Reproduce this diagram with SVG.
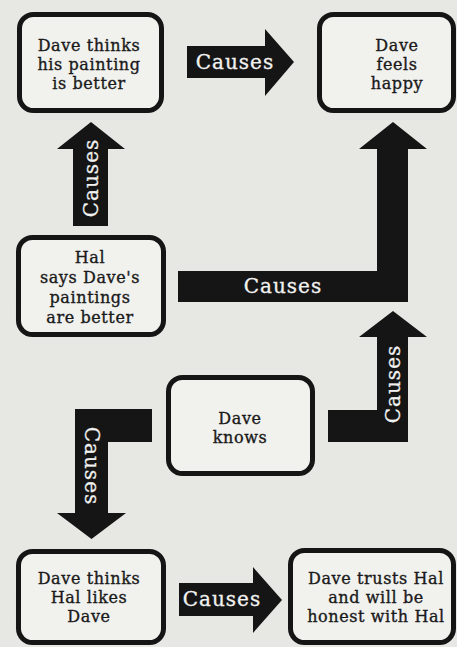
<svg xmlns="http://www.w3.org/2000/svg" width="457" height="647" viewBox="0 0 457 647">
<style>
.bg{fill:#e7e7e3}
.box{fill:#f1f1ee;stroke:#151515;stroke-width:5}
.arrow{fill:#151515}
.t{font-family:"DejaVu Serif","Liberation Serif",serif;font-size:16px;fill:#1a1a1a;stroke:#1a1a1a;stroke-width:0.35;text-anchor:middle;letter-spacing:0.6px}
.lbl{font-family:"DejaVu Serif","Liberation Serif",serif;font-size:20px;fill:#f2f2f0;stroke:#f2f2f0;stroke-width:0.3;text-anchor:middle;letter-spacing:1px}
</style>
<rect class="bg" x="0" y="0" width="457" height="647"/>
<g id="connectors">
  <g id="c1">
    <polygon class="arrow" points="187,46 265,46 265,29 294,62 265,96 265,78 187,78"/>
    <text class="lbl" x="235" y="69">Causes</text>
  </g>
  <g id="c2">
    <polygon class="arrow" points="91,122 125,149 108,149 108,226 73,226 73,149 57,149"/>
    <text class="lbl" transform="translate(98,178) rotate(-90)" x="0" y="0">Causes</text>
  </g>
  <g id="c3">
    <polygon class="arrow" points="393,122 427,149 408,149 408,302 178,302 178,271 377,271 377,149 359,149"/>
    <text class="lbl" x="283" y="293">Causes</text>
  </g>
  <g id="c4">
    <polygon class="arrow" points="393,311 427,337 408,337 408,442 328,442 328,410 377,410 377,337 359,337"/>
    <text class="lbl" transform="translate(400,384) rotate(-90)" x="0" y="0">Causes</text>
  </g>
  <g id="c5">
    <polygon class="arrow" points="75,409 152,409 152,442 108,442 108,513 126,513 91.5,539 57,513 75,513"/>
    <text class="lbl" transform="translate(85,466) rotate(90)" x="0" y="0">Causes</text>
  </g>
  <g id="c6">
    <polygon class="arrow" points="179,583 253,583 253,567 282,600 253,633 253,616 179,616"/>
    <text class="lbl" x="222" y="606">Causes</text>
  </g>
</g>
<g id="n1">
  <rect class="box" x="19.5" y="14.5" width="142" height="96" rx="14"/>
  <text class="t" x="89" y="51">Dave thinks</text>
  <text class="t" x="89" y="70">his painting</text>
  <text class="t" x="89" y="89">is better</text>
</g>
<g id="n2">
  <rect class="box" x="319.5" y="14.5" width="134" height="96" rx="14"/>
  <text class="t" x="397" y="51">Dave</text>
  <text class="t" x="397" y="70">feels</text>
  <text class="t" x="397" y="89">happy</text>
</g>
<g id="n3">
  <rect class="box" x="18.5" y="237.5" width="145" height="97" rx="14"/>
  <text class="t" x="90" y="263">Hal</text>
  <text class="t" x="90" y="283">says Dave's</text>
  <text class="t" x="90" y="303">paintings</text>
  <text class="t" x="90" y="323">are better</text>
</g>
<g id="n4">
  <rect class="box" x="168.5" y="377.5" width="144" height="96" rx="14"/>
  <text class="t" x="240" y="424">Dave</text>
  <text class="t" x="240" y="443">knows</text>
</g>
<g id="n5">
  <rect class="box" x="18.5" y="551.5" width="145" height="91" rx="14"/>
  <text class="t" x="89" y="584">Dave thinks</text>
  <text class="t" x="89" y="603">Hal likes</text>
  <text class="t" x="89" y="622">Dave</text>
</g>
<g id="n6">
  <rect class="box" x="290.5" y="550.5" width="163" height="92" rx="14"/>
  <text class="t" x="376" y="584">Dave trusts Hal</text>
  <text class="t" x="376" y="603">and will be</text>
  <text class="t" x="376" y="622">honest with Hal</text>
</g>
</svg>
